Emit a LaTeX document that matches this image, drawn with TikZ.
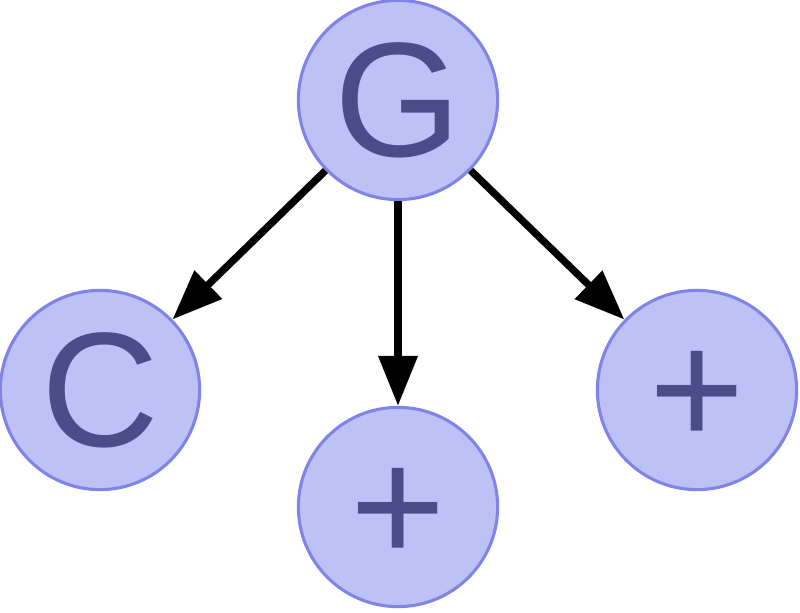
\documentclass[tikz,border=0pt]{standalone}
\usepackage{fontspec}
\setmainfont{Liberation Sans}
\usetikzlibrary{arrows.meta}
\definecolor{ringblue}{RGB}{128,132,230}
\definecolor{fillblue}{RGB}{189,193,245}
\definecolor{textblue}{RGB}{74,77,138}

\begin{document}
\begin{tikzpicture}[x=0.025cm,y=-0.025cm,
  gnode/.style={circle, draw=ringblue, fill=fillblue, line width=2.2pt,
    minimum size=4.98cm, inner sep=0pt,
    text=textblue, font=\fontsize{116}{116}\selectfont},
  opnode/.style={gnode, text height=79pt, text depth=0pt},
  edge/.style={line width=5.2pt, -{Triangle[length=1.25cm,width=0.95cm]}}]

\useasboundingbox (0,0) rectangle (800,612);

% Nodes
\node[gnode] (g) at (398,100) {G};
\node[gnode] (c) at (100,390) {C};
\node[opnode] (p1) at (398,507) {+};
\node[opnode] (p2) at (697,390) {+};

% Edges
\draw[edge] (g) -- (c);
\draw[edge] (g) -- (p1);
\draw[edge] (g) -- (p2);

\end{tikzpicture}
\end{document}
